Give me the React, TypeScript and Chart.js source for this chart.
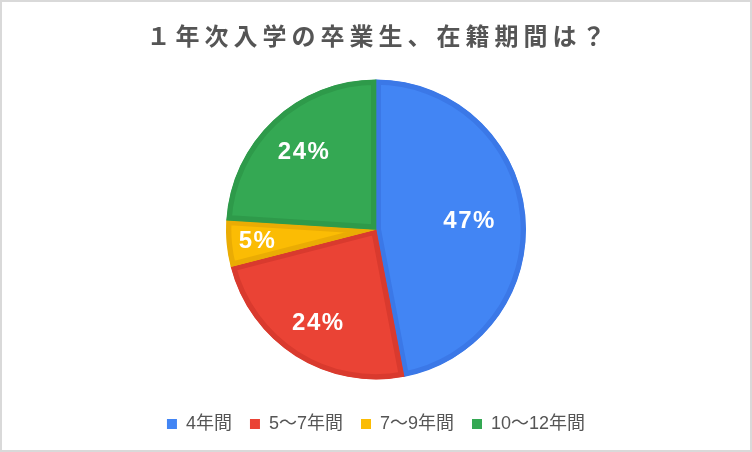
import { useEffect, useRef } from 'react';
import { Chart, ChartConfiguration, Plugin, registerables } from 'chart.js';

Chart.register(...registerables);

const chartTitle = '１年次入学の卒業生、在籍期間は？';
const categories = ['4年間', '5～7年間', '7～9年間', '10～12年間'];
const shares = [47, 24, 5, 24];

const fillColors = ['#4285f4', '#ea4335', '#fbbc04', '#34a853'];
const edgeColors = ['#3b78e7', '#d93a2e', '#eaac04', '#2e9a4a'];
// how far out (share of radius) each % label sits, like the original layout
const labelReach = [0.62, 0.73, 0.8, 0.71];

const latinFont = '"Liberation Sans", Arial, "Noto Sans CJK JP", sans-serif';

const spacedTitle: Plugin<'pie'> = {
  id: 'spacedTitle',
  afterDraw(chart) {
    const ctx = chart.ctx;
    ctx.save();
    (ctx as any).letterSpacing = '5px';
    ctx.font = 'bold 24px "Noto Sans CJK JP", sans-serif';
    ctx.fillStyle = '#555555';
    ctx.textAlign = 'center';
    ctx.textBaseline = 'middle';
    ctx.fillText(chartTitle, chart.width / 2 + 2.5, 34);
    ctx.restore();
  },
};

const sliceLabels: Plugin<'pie'> = {
  id: 'sliceLabels',
  afterDatasetsDraw(chart) {
    const ctx = chart.ctx;
    const meta = chart.getDatasetMeta(0);
    ctx.save();
    (ctx as any).letterSpacing = '1.5px';
    ctx.font = 'bold 24px ' + latinFont;
    ctx.fillStyle = '#ffffff';
    ctx.textAlign = 'center';
    ctx.textBaseline = 'middle';
    meta.data.forEach((arc, i) => {
      const { x, y, startAngle, endAngle, outerRadius } = arc.getProps(
        ['x', 'y', 'startAngle', 'endAngle', 'outerRadius'],
        true
      ) as any;
      const mid = (startAngle + endAngle) / 2;
      const r = outerRadius * labelReach[i];
      ctx.fillText(`${shares[i]}%`, x + Math.cos(mid) * r + 1, y + Math.sin(mid) * r + 1);
    });
    ctx.restore();
  },
};

export default function App() {
  const chartRef = useRef<HTMLCanvasElement>(null);

  useEffect(() => {
    document.body.style.margin = '0';
    if (!chartRef.current) return;
    const ctx = chartRef.current.getContext('2d');
    if (!ctx) return;

    const config: ChartConfiguration<'pie'> = {
      type: 'pie',
      data: {
        labels: categories,
        datasets: [
          {
            data: shares,
            backgroundColor: fillColors,
            borderColor: edgeColors,
            borderWidth: 5,
            borderAlign: 'inner',
            hoverOffset: 0,
          },
        ],
      },
      options: {
        animation: false,
        responsive: true,
        maintainAspectRatio: false,
        radius: 150,
        layout: { padding: { top: 60, bottom: 7, left: 0, right: 0 } },
        plugins: {
          title: { display: false },
          tooltip: { enabled: false },
          legend: {
            position: 'bottom',
            labels: {
              usePointStyle: true,
              pointStyle: 'rect',
              boxWidth: 10,
              boxHeight: 10,
              padding: 18,
              color: '#555555',
              font: { size: 18, family: latinFont },
              generateLabels: (chart) =>
                Chart.overrides.pie.plugins.legend.labels
                  .generateLabels(chart)
                  .map((item) => ({ ...item, lineWidth: 0, strokeStyle: 'rgba(0,0,0,0)' })),
            },
          },
        },
      },
      plugins: [sliceLabels, spacedTitle],
    };

    const chart = new Chart(ctx, config);
    return () => {
      chart.destroy();
    };
  }, []);

  return (
    <div
      style={{
        width: 752,
        height: 452,
        boxSizing: 'border-box',
        border: '2px solid #d9d9d9',
        background: '#ffffff',
      }}
    >
      <div style={{ position: 'relative', width: 748, height: 448 }}>
        <canvas ref={chartRef}></canvas>
      </div>
    </div>
  );
}
